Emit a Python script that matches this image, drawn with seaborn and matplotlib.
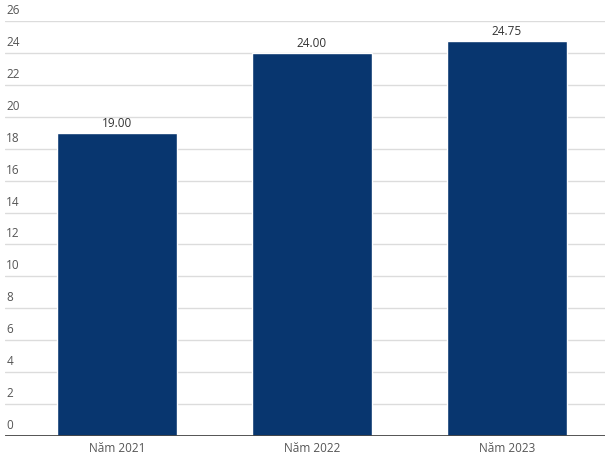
import matplotlib
matplotlib.use("Agg")
import matplotlib.pyplot as plt
import seaborn as sns
import pandas as pd

# Data
categories = ["Năm 2021", "Năm 2022", "Năm 2023"]
values = [19.00, 24.00, 24.75]
y_ticks = list(range(0, 27, 2))

df = pd.DataFrame({"year": categories, "value": values})

sns.set_style("white")
plt.rcParams["font.family"] = ["Open Sans", "DejaVu Sans"]

fig = plt.figure(figsize=(6.12, 4.57), dpi=100)
ax = fig.add_axes([5 / 612, 21 / 457, 600 / 612, 415 / 457])

sns.barplot(data=df, x="year", y="value", color="#08366f", width=0.615,
            saturation=1, ax=ax, zorder=3)

ax.set_xlim(-0.574, 2.503)
ax.set_ylim(0, 26)

# horizontal grid with labels sitting above the lines
ax.set_yticks(y_ticks)
ax.set_yticklabels([])
ax.tick_params(axis="y", length=0)
for t in y_ticks:
    if t > 0:
        ax.axhline(t, color="#dcdcdc", lw=1, zorder=1)
    ax.text(0.002, t + 0.25, str(t), transform=ax.get_yaxis_transform(),
            ha="left", va="bottom", fontsize=8.5, color="#555555", clip_on=False)

ax.axhline(0, color="#444444", lw=2, zorder=4)

# value labels
for i, v in enumerate(values):
    ax.text(i, v + 0.2, f"{v:.2f}", ha="center", va="bottom",
            fontsize=8.5, color="#333333")

ax.set_xlabel("")
ax.set_ylabel("")
ax.tick_params(axis="x", length=0, pad=4, labelsize=8.5, labelcolor="#555555")
sns.despine(ax=ax, left=True, bottom=True)

fig.savefig("out.png", dpi=100)
